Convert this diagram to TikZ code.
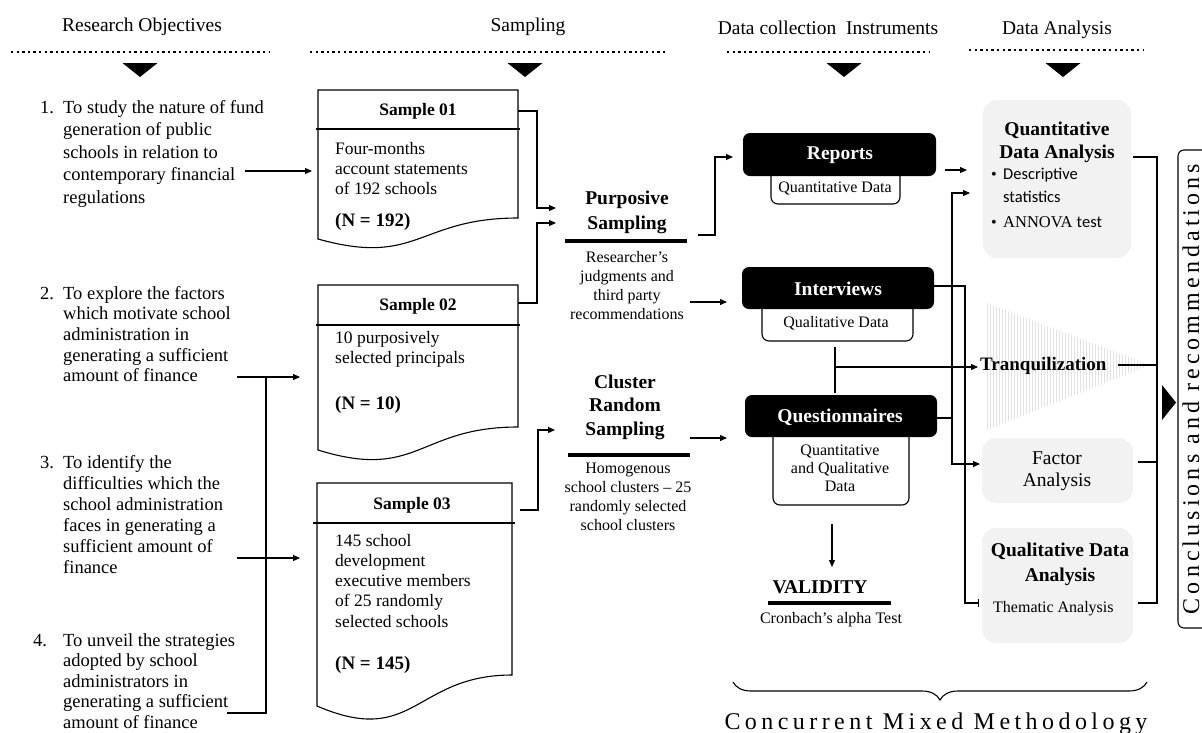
\documentclass[tikz,border=0pt]{standalone}
\usepackage{fontspec}
\setmainfont{Liberation Serif}
\newfontfamily\calfont{Carlito}
\newfontfamily\spfontA[LetterSpace=17]{Liberation Serif}
\newfontfamily\spfontB[LetterSpace=18.5]{Liberation Serif}
\usetikzlibrary{arrows.meta,decorations.pathreplacing,patterns,calc}
\newcommand\myfs[2]{\fontsize{#1}{#2}\selectfont}
\begin{document}
\begin{tikzpicture}[x=1pt,y=-1pt,
  conn/.style={line width=1.1pt},
  arr/.style={conn,-{Triangle[length=7pt,width=6pt]}},
  hdr/.style={font=\myfs{19.5}{22},inner sep=0pt},
  obj/.style={align=left, inner sep=0pt, anchor=base west},
  num/.style={font=\myfs{18.5}{21}, inner sep=0pt, anchor=base west},
  dots/.style={line width=2.4pt, dash pattern=on 2.4pt off 3.2pt},
  doc/.style={draw, line width=1.1pt, fill=white},
  shead/.style={font=\bfseries\myfs{17.5}{20}, inner sep=0pt},
  sbody/.style={font=\myfs{17.5}{20.3}, align=left, inner sep=0pt, anchor=base west},
  nval/.style={font=\bfseries\myfs{19}{22}, inner sep=0pt, anchor=base west},
  bigb/.style={font=\bfseries\myfs{19.5}{24}, align=center, inner sep=0pt, anchor=base},
  small/.style={align=center, inner sep=0pt, anchor=base},
  bar/.style={line width=4pt},
  blk/.style={fill=black, rounded corners=7pt},
  sub/.style={draw, line width=1.1pt, fill=white, rounded corners=7pt},
  wt/.style={text=white, font=\bfseries\myfs{19.5}{22}, inner sep=0pt},
  gbox/.style={fill=black!5, rounded corners=14pt},
]
\useasboundingbox (0,0) rectangle (1202,732);
\fill[white] (0,0) rectangle (1202,732);

% ---------- headers ----------
\node[hdr] (h1) at (142,27) {Research Objectives};
\node[hdr] (h2) at (528,27) {Sampling};
\node[hdr] (h3) at (828,28) {Data collection\ \ Instruments};
\node[hdr] (h4) at (1057,30) {Data Analysis};
\draw[dots] (11,52) -- (269,52);
\draw[dots] (310,52) -- (667,52);
\draw[dots] (727,52) -- (929,52);
\draw[dots] (969,50) -- (1144,50);
\fill (122.5,63) -- (157.5,63) -- (140,77) -- cycle;
\fill (507.5,63) -- (542.5,63) -- (525,77) -- cycle;
\fill (826.5,63) -- (861.5,63) -- (844,77) -- cycle;
\fill (1045.5,63) -- (1080.5,63) -- (1063,77) -- cycle;

% ---------- objectives (anchor = last line baseline) ----------
\node[num] (n1) at (40,113) {1.};
\node[obj, font=\myfs{18.5}{22.5}] (o1) at (63,203) {To study the nature of fund\\generation of public\\schools in relation to\\contemporary financial\\regulations};
\node[num] (n2) at (40,299) {2.};
\node[obj, font=\myfs{18.5}{20.7}] (o2) at (63,381.8) {To explore the factors\\which motivate school\\administration in\\generating a sufficient\\amount of finance};
\node[num] (n3) at (40,468) {3.};
\node[obj, font=\myfs{18.5}{21}] (o3) at (63,573) {To identify the\\difficulties which the\\school administration\\faces in generating a\\sufficient amount of\\finance};
\node[num] (n4) at (33,646) {4.};
\node[obj, font=\myfs{18.5}{20.5}] (o4) at (63,728) {To unveil the strategies\\adopted by school\\administrators in\\generating a sufficient\\amount of finance};

\coordinate (a1s) at (245,171); \coordinate (s1in) at (312,171);
\coordinate (a2s) at (237,377); \coordinate (s2in) at (300,377);
\coordinate (a3s) at (237,558); \coordinate (s3in) at (300,558);
\coordinate (a4s) at (227,713); \coordinate (a4c) at (266,713);
\draw[arr] (a1s) -- (s1in);
\draw[arr] (a2s) -- (s2in);
\draw[arr] (a3s) -- (s3in);
\draw[conn] (a4s) -- (a4c) -- (266,377);

% ---------- sample boxes ----------
\draw[doc] (318,90) -- (518,90) -- (518,218) .. controls (418,218) and (418,267) .. (318,239) -- cycle;
\draw[conn] (316,129) -- (520,129);
\node[shead] (s1h) at (418,111) {Sample 01};
\node[sbody] (s1b) at (335,194.6) {Four-months\\account statements\\of 192 schools};
\node[nval] (s1n) at (335,226) {(N = 192)};

\draw[doc] (318,285) -- (518,285) -- (518,427) .. controls (418,427) and (418,481) .. (318,450) -- cycle;
\draw[conn] (316,325) -- (520,325);
\node[shead] (s2h) at (418,306) {Sample 02};
\node[sbody] (s2b) at (335,363.3) {10 purposively\\selected principals};
\node[nval] (s2n) at (335,409) {(N = 10)};

\draw[doc] (317,483) -- (512,483) -- (512,675) .. controls (414.5,675) and (414.5,748) .. (317,706) -- cycle;
\draw[conn] (313,523) -- (515,523);
\node[shead] (s3h) at (412,505) {Sample 03};
\node[sbody] (s3b) at (335,627.2) {145 school\\development\\executive members\\of 25 randomly\\selected schools};
\node[nval] (s3n) at (335,669) {(N = 145)};

% ---------- sampling methods ----------
\node[bigb, font=\bfseries\myfs{19.5}{25}] (ps) at (627,229) {Purposive\\Sampling};
\draw[bar] (565,241) -- (687,241);
\node[small, font=\myfs{16}{19.3}] (pst) at (627,319.9) {Researcher’s\\judgments and\\third party\\recommendations};

\node[bigb, font=\bfseries\myfs{19.5}{23.5}] (cs) at (625,435) {Cluster\\Random\\Sampling};
\draw[bar] (568,455) -- (690,455);
\node[small, font=\myfs{16}{19}] (cst) at (628,530) {Homogenous\\school clusters – 25\\randomly selected\\school clusters};

\coordinate (s1o) at (518,111); \coordinate (pin1) at (556,208);
\coordinate (s2o) at (518,303); \coordinate (pin2) at (556,223);
\coordinate (s3o) at (520,510); \coordinate (cin) at (555,430);
\draw[arr] (s1o) -- ++(19,0) |- (pin1);
\draw[arr] (s2o) -- ++(19,0) |- (pin2);
\draw[arr] (s3o) -- ++(18,0) |- (cin);

% ---------- instruments ----------
\draw[sub] (771,166) rectangle (900,204);
\fill[blk] (743,133) rectangle (936,176);
\node[wt] (rep) at (840,155) {Reports};
\node[inner sep=0pt, font=\myfs{16}{18}] (repd) at (835,188) {Quantitative Data};

\draw[sub] (762,299) rectangle (913,341);
\fill[blk] (742,267) rectangle (934,309);
\node[wt] (int) at (838,289) {Interviews};
\node[inner sep=0pt, font=\myfs{16}{18}] (intd) at (836,323) {Qualitative Data};

\draw[sub] (773,427) rectangle (909,505);
\fill[blk] (745,395) rectangle (937,437);
\node[wt] (que) at (840,417) {Questionnaires};
\node[small, font=\myfs{16}{18}] (qued) at (840,491) {Quantitative\\and Qualitative\\Data};

\coordinate (pout1) at (698,235); \coordinate (rin) at (733,157);
\coordinate (pout2) at (690,302); \coordinate (iin) at (727,302);
\coordinate (cout) at (690,438); \coordinate (qin) at (727,438);
\draw[arr] (pout1) -- ++(17,0) |- (rin);
\draw[arr] (pout2) -- (iin);
\draw[arr] (cout) -- (qin);

\coordinate (ib) at (835,347); \coordinate (qt) at (835,393);
\coordinate (tj) at (835,367); \coordinate (tin) at (978,367);
\draw[conn] (ib) -- (qt);
\draw[arr] (tj) -- (tin);

\coordinate (vs) at (832,524); \coordinate (ve) at (832,567);
\draw[arr] (vs) -- (ve);
\node[bigb] (val) at (820,593) {VALIDITY};
\draw[bar] (768,603) -- (891,603);
\node[small, font=\myfs{16}{18}] (cron) at (831,623) {Cronbach’s alpha Test};

% ---------- analysis ----------
\fill[gbox] (983,100) rectangle (1131,258);
\node[bigb, font=\bfseries\myfs{19.5}{23}] (qda) at (1057,158) {Quantitative\\Data Analysis};
\node[inner sep=0pt, anchor=base, font=\myfs{16}{18}] (b1) at (994,179) {•};
\node[inner sep=0pt, anchor=base west, font=\calfont\myfs{16.5}{23}, align=left] (b1t) at (1003,202) {Descriptive\\statistics};
\node[inner sep=0pt, anchor=base, font=\myfs{16}{18}] (b2) at (994,227) {•};
\node[inner sep=0pt, anchor=base west, font=\myfs{16.5}{18}] (b2t) at (1003,227) {ANNOVA {\calfont test}};

\fill[pattern=vertical lines, pattern color=black!11] (987,303) -- (1150,365) -- (987,430) -- cycle;
\node[inner sep=0pt, anchor=west, font=\bfseries\myfs{19}{22}] (tq) at (980,366) {Tranquilization};

\fill[gbox] (982,438) rectangle (1133,503);
\node[small, font=\myfs{19.5}{22}] (fa) at (1057,486) {Factor\\Analysis};

\fill[gbox] (982,528) rectangle (1133,643);
\node[bigb, font=\bfseries\myfs{19.5}{25}] (qla) at (1060,581) {Qualitative Data\\Analysis};
\node[inner sep=0pt, anchor=base west, font=\myfs{16}{18}] (tha) at (993,612) {Thematic Analysis};

% connectors to analysis
\coordinate (rq) at (945,170); \coordinate (qin2) at (967,170);
\draw[arr] (rq) -- (qin2);
\coordinate (qo) at (937,418); \coordinate (qj) at (952,418);
\coordinate (qdain) at (970,193); \coordinate (fain) at (980,464);
\draw[conn] (qo) -- (qj);
\draw[arr] (qj) |- (qdain);
\draw[arr] (qj) |- (fain);
\coordinate (io) at (934,286); \coordinate (thin) at (979,603);
\draw[conn, -{Bar[width=8pt, line width=1.1pt]}] (io) -- (965,286) |- (thin);

% collector
\coordinate (c1) at (1133,157); \coordinate (c2) at (1118,365);
\coordinate (c3) at (1138,462); \coordinate (c4) at (1138,603);
\draw[conn] (c1) -- (1157,157) -- (1157,603) -- (c4);
\draw[conn] (c2) -- (1157,365);
\draw[conn] (c3) -- (1157,462);
\fill (1162,385) -- (1176,402.5) -- (1162,420) -- cycle;
\draw[conn, rounded corners=6pt] (1178,150) rectangle (1222,628);
\node[rotate=90, inner sep=0pt, font=\spfontA\myfs{24}{26}] (concl) at (1191,389) {Conclusions and recommendations};

% brace
\draw[decorate, decoration={brace, amplitude=18pt}, line width=1.1pt] (1147,682) -- (733,682);
\node[inner sep=0pt, anchor=base, font=\spfontB\myfs{24}{26}] (cmm) at (936,729) {Concurrent Mixed Methodology};
\end{tikzpicture}
\end{document}
